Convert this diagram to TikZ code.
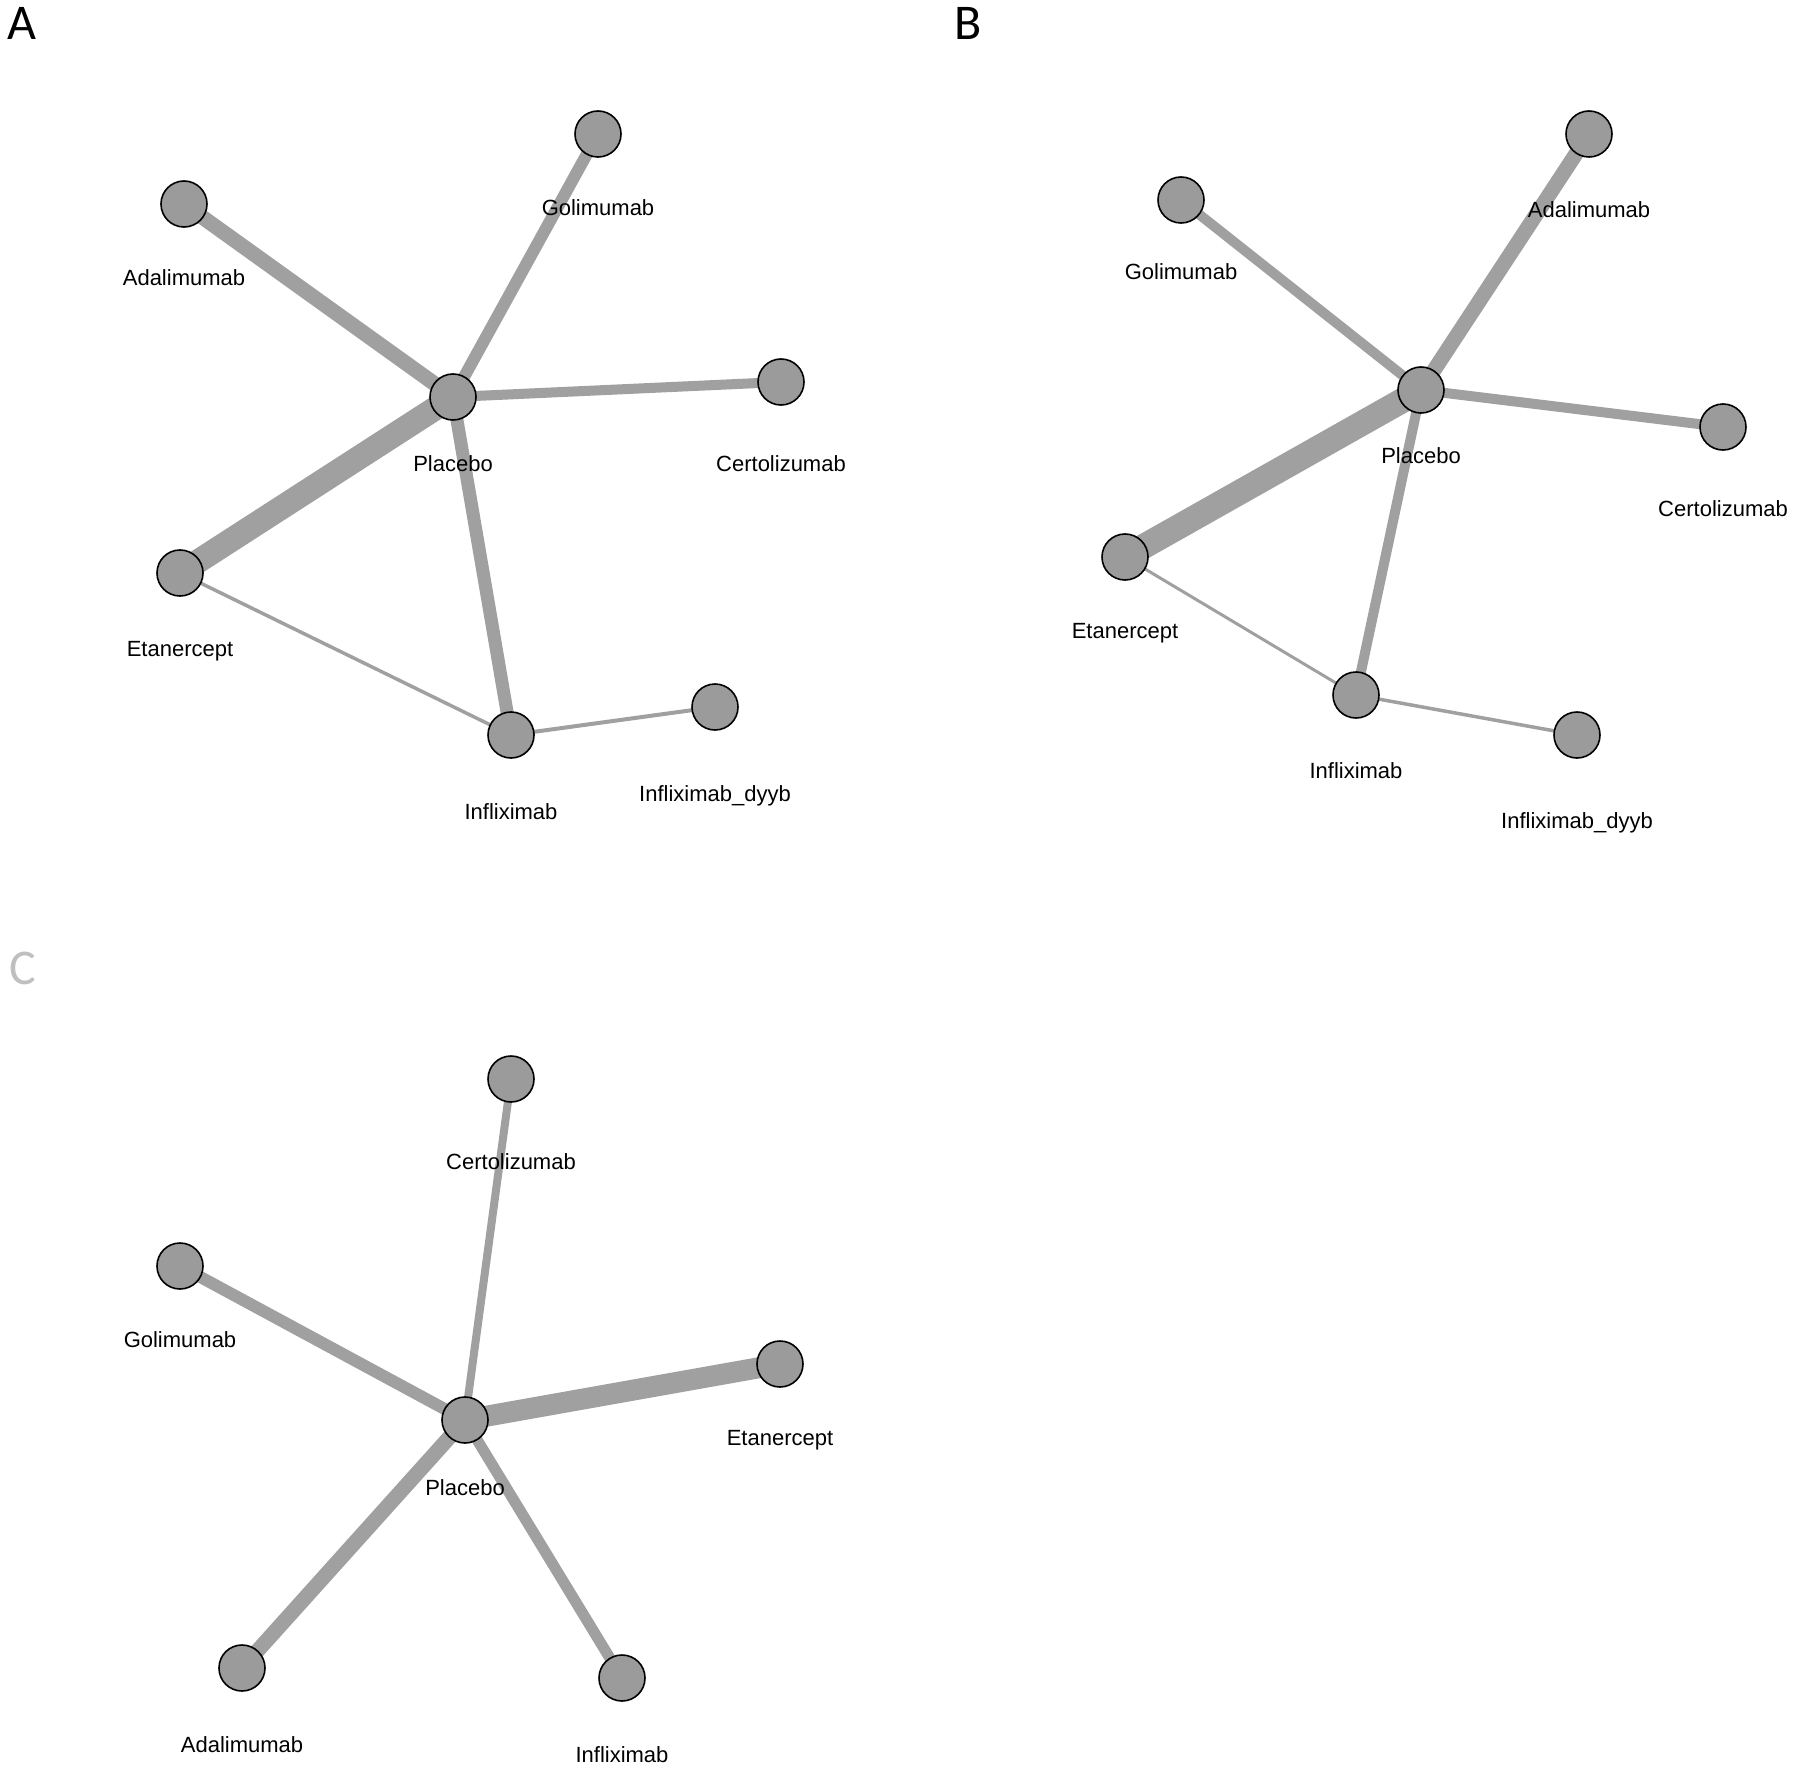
\documentclass[tikz,border=0pt]{standalone}
\usepackage{fontspec}
\setmainfont{Liberation Sans}
\newfontfamily\panelfont{Carlito}
\usepackage{tikz}
\usetikzlibrary{backgrounds}

\definecolor{nodegray}{RGB}{155,155,155}
\definecolor{edgegray}{RGB}{160,160,160}

\begin{document}
\begin{tikzpicture}[
  x=1pt, y=-1pt,
  font=\fontsize{22}{26}\selectfont,
  trt/.style={circle, draw=black, line width=1.6pt, fill=nodegray,
              minimum size=46pt, inner sep=0pt},
  lbl/.style={inner sep=0pt, text height=16pt, text depth=0pt},
  panel/.style={inner sep=0pt, font=\panelfont\fontsize{50}{56}\selectfont},
  cmp/.style={draw=edgegray, line width=#1},
]
\useasboundingbox (0,0) rectangle (1800,1771);

% ── 面板标签 ──
\node[panel] (pA) at (22,23) {A};
\node[panel] (pB) at (968,23) {B};
\node[panel, text=black!25] (pC) at (23,968) {C};

% ── 网络 A ──
\node[trt] (aPla) at (453,397) {};
\node[trt] (aGol) at (598,134) {};
\node[trt] (aAda) at (184,204) {};
\node[trt] (aCer) at (781,382) {};
\node[trt] (aEta) at (180,573) {};
\node[trt] (aInf) at (511,735) {};
\node[trt] (aDyy) at (715,707) {};

\node[lbl] (aPlaL) at (453,463) {Placebo};
\node[lbl] (aGolL) at (598,208) {Golimumab};
\node[lbl] (aAdaL) at (184,278) {Adalimumab};
\node[lbl] (aCerL) at (781,463) {Certolizumab};
\node[lbl] (aEtaL) at (180,648) {Etanercept};
\node[lbl] (aInfL) at (511,811) {Infliximab};
\node[lbl] (aDyyL) at (715,793) {Infliximab\_dyyb};

% ── 网络 B ──
\node[trt] (bPla) at (1421,390) {};
\node[trt] (bAda) at (1589,134) {};
\node[trt] (bGol) at (1181,200) {};
\node[trt] (bCer) at (1723,427) {};
\node[trt] (bEta) at (1125,557) {};
\node[trt] (bInf) at (1356,695) {};
\node[trt] (bDyy) at (1577,735) {};

\node[lbl] (bPlaL) at (1421,455) {Placebo};
\node[lbl] (bAdaL) at (1589,210) {Adalimumab};
\node[lbl] (bGolL) at (1181,272) {Golimumab};
\node[lbl] (bCerL) at (1723,508) {Certolizumab};
\node[lbl] (bEtaL) at (1125,630) {Etanercept};
\node[lbl] (bInfL) at (1356,770) {Infliximab};
\node[lbl] (bDyyL) at (1577,820) {Infliximab\_dyyb};

% ── 网络 C ──
\node[trt] (cPla) at (465,1420) {};
\node[trt] (cCer) at (511,1079) {};
\node[trt] (cGol) at (180,1266) {};
\node[trt] (cEta) at (780,1364) {};
\node[trt] (cAda) at (242,1668) {};
\node[trt] (cInf) at (622,1678) {};

\node[lbl] (cPlaL) at (465,1487) {Placebo};
\node[lbl] (cCerL) at (511,1161) {Certolizumab};
\node[lbl] (cGolL) at (180,1339) {Golimumab};
\node[lbl] (cEtaL) at (780,1437) {Etanercept};
\node[lbl] (cAdaL) at (242,1744) {Adalimumab};
\node[lbl] (cInfL) at (622,1754) {Infliximab};

% ── 连线（线宽 ~ 试验数） ──
\begin{scope}[on background layer]
  \draw[cmp=15pt] (aPla.center) -- (aAda.center);
  \draw[cmp=12pt] (aPla.center) -- (aGol.center);
  \draw[cmp=10pt] (aPla.center) -- (aCer.center);
  \draw[cmp=24pt] (aPla.center) -- (aEta.center);
  \draw[cmp=13pt] (aPla.center) -- (aInf.center);
  \draw[cmp=3.5pt] (aEta.center) -- (aInf.center);
  \draw[cmp=4pt] (aInf.center) -- (aDyy.center);

  \draw[cmp=15pt] (bPla.center) -- (bAda.center);
  \draw[cmp=10pt] (bPla.center) -- (bGol.center);
  \draw[cmp=10pt] (bPla.center) -- (bCer.center);
  \draw[cmp=25pt] (bPla.center) -- (bEta.center);
  \draw[cmp=10pt] (bPla.center) -- (bInf.center);
  \draw[cmp=3pt] (bEta.center) -- (bInf.center);
  \draw[cmp=3.5pt] (bInf.center) -- (bDyy.center);

  \draw[cmp=8pt] (cPla.center) -- (cCer.center);
  \draw[cmp=12pt] (cPla.center) -- (cGol.center);
  \draw[cmp=21pt] (cPla.center) -- (cEta.center);
  \draw[cmp=15pt] (cPla.center) -- (cAda.center);
  \draw[cmp=11pt] (cPla.center) -- (cInf.center);
\end{scope}

\end{tikzpicture}
\end{document}
